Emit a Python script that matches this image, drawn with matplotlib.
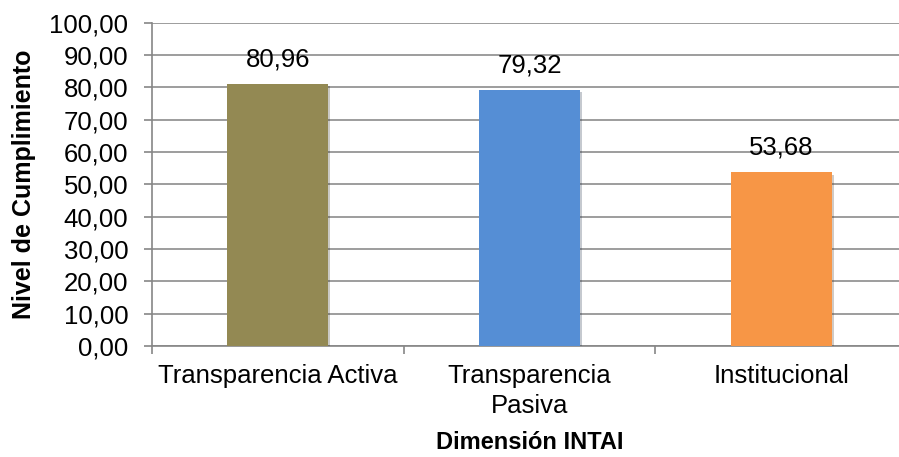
import matplotlib
matplotlib.use("Agg")
import matplotlib.pyplot as plt
import matplotlib.patheffects as pe

plt.rcParams['font.family'] = ['Liberation Sans', 'DejaVu Sans']

categories = ["Transparencia Activa", "Transparencia\nPasiva", "Institucional"]
values = [80.96, 79.32, 53.68]
colors = ["#938953", "#558ED5", "#F79646"]
yticks = [0, 10, 20, 30, 40, 50, 60, 70, 80, 90, 100]

fig = plt.figure(figsize=(8.99, 4.57), dpi=100)
ax = fig.add_axes([152/899, 1-346/457, (907-152)/899, (346-22.7)/457])

x = list(range(len(categories)))
bars = ax.bar(x, values, width=0.4, color=colors, zorder=3,
              path_effects=[pe.SimplePatchShadow(offset=(1.5, -1.5), alpha=0.25), pe.Normal()])

for xi, v in zip(x, values):
    ax.annotate(f"{v:.2f}".replace(".", ","), (xi, v), xytext=(0, 9),
                textcoords="offset points", ha="center", va="bottom", fontsize=18.5, zorder=4)

ax.set_xlim(-0.5, len(categories) - 0.5)
ax.set_ylim(0, 100)
ax.set_yticks(yticks)
ax.set_yticklabels([f"{t:.2f}".replace(".", ",") for t in yticks], fontsize=18.5)
ax.set_xticks([i + 0.5 for i in range(-1, len(categories))], minor=False)
ax.set_xticklabels([])
ax.set_xticks(x, minor=True)
ax.set_xticklabels(categories, minor=True, fontsize=18.5, linespacing=1.3)
ax.tick_params(axis="x", which="minor", length=0, pad=13)
ax.tick_params(axis="x", which="major", length=6, direction="out", color="#868686", width=1.2)
ax.tick_params(axis="y", length=6, direction="out", color="#868686", width=1.2, pad=11)

ax.grid(axis="y", color="#8c8c8c", linewidth=1.2, zorder=0)
for s in ["top", "right"]:
    ax.spines[s].set_visible(False)
for s in ["left", "bottom"]:
    ax.spines[s].set_color("#868686")
    ax.spines[s].set_linewidth(1.2)

ax.set_ylabel("Nivel de Cumplimiento", fontsize=18, fontweight="bold")
ax.yaxis.set_label_coords(-0.154, 0.5)
ax.set_xlabel("Dimensión INTAI", fontsize=17, fontweight="bold", va="top")
ax.xaxis.set_label_coords(0.5, -0.262)

fig.savefig("out.png", dpi=100)
